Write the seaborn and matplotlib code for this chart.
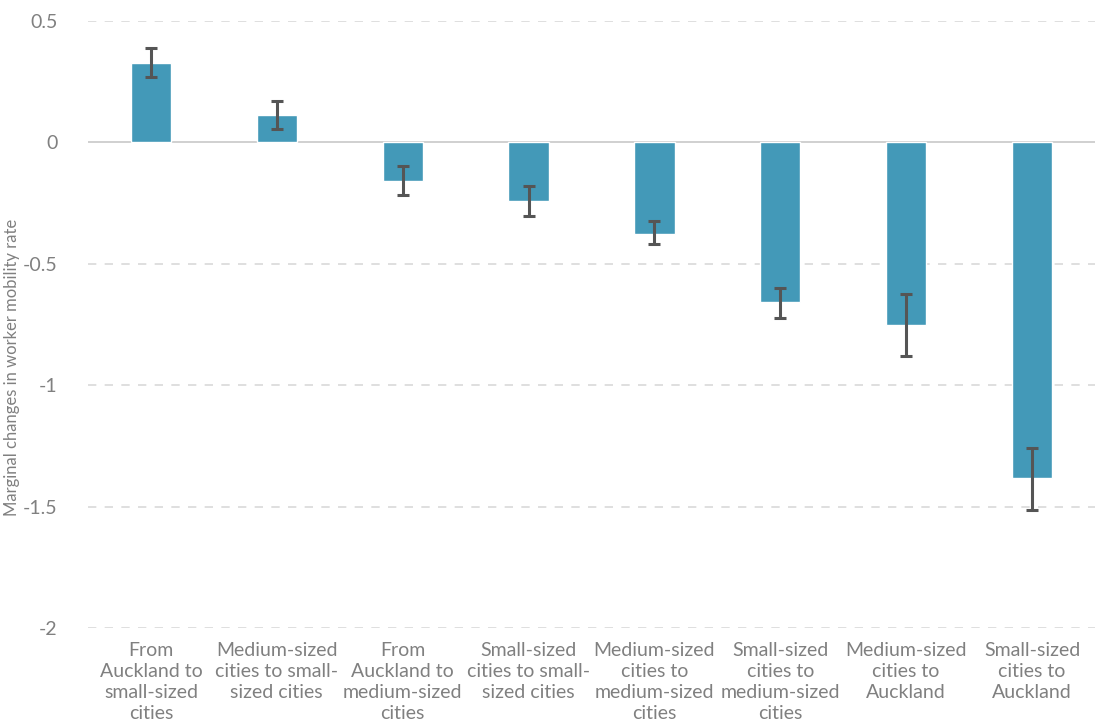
import numpy as np
import pandas as pd
import matplotlib
matplotlib.use("Agg")
import matplotlib.pyplot as plt
import seaborn as sns

# Data
categories = [
    "From\nAuckland to\nsmall-sized\ncities",
    "Medium-sized\ncities to small-\nsized cities",
    "From\nAuckland to\nmedium-sized\ncities",
    "Small-sized\ncities to small-\nsized cities",
    "Medium-sized\ncities to\nmedium-sized\ncities",
    "Small-sized\ncities to\nmedium-sized\ncities",
    "Medium-sized\ncities to\nAuckland",
    "Small-sized\ncities to\nAuckland",
]
values = [0.325, 0.111, -0.157, -0.243, -0.379, -0.659, -0.754, -1.384]
ci_low = [0.268, 0.054, -0.218, -0.305, -0.420, -0.725, -0.881, -1.516]
ci_high = [0.387, 0.169, -0.099, -0.181, -0.325, -0.601, -0.626, -1.260]

yticks = [0.5, 0, -0.5, -1, -1.5, -2]
ytick_labels = ["0.5", "0", "-0.5", "-1", "-1.5", "-2"]

bar_color = "#4399b8"
text_color = "#808080"

df = pd.DataFrame({"route": categories, "change": values})

sns.set_style("white")
plt.rcParams["font.family"] = ["Lato", "DejaVu Sans"]

fig = plt.figure(figsize=(10.95, 7.27), dpi=100)
ax = fig.add_axes([88 / 1095, 1 - 628 / 727, 1 - 88 / 1095, 607 / 727])

sns.barplot(data=df, x="route", y="change", color=bar_color, width=0.32,
            saturation=1, errorbar=None, ax=ax, zorder=3)

# asymmetric error bars
x = np.arange(len(values))
yerr = np.array([np.array(values) - np.array(ci_low),
                 np.array(ci_high) - np.array(values)])
ax.errorbar(x, values, yerr=yerr, fmt="none", ecolor="#555555",
            elinewidth=2.2, capsize=4.5, capthick=2.2, zorder=4)

ax.set_ylim(-2, 0.5)
ax.set_xlim(-0.5, len(values) - 0.5)
ax.set_yticks(yticks)
ax.set_yticklabels(ytick_labels)

for yv in yticks:
    if yv == 0:
        ax.axhline(0, color="#c8c8c8", lw=1.2, zorder=2)
    else:
        ax.axhline(yv, color="#d9d9d9", lw=1.2, ls=(0, (5, 5)), zorder=1)

for s in ax.spines.values():
    s.set_visible(False)

ax.tick_params(axis="y", length=0, colors=text_color, labelsize=14, pad=22)
ax.tick_params(axis="x", length=0, colors=text_color, labelsize=14, pad=10)
ax.set_xlabel("")
ax.set_ylabel("Marginal changes in worker mobility rate", color=text_color,
              fontsize=12, labelpad=14)
ax.yaxis.set_label_coords(-0.068, 0.43)
for lab in ax.get_xticklabels():
    lab.set_linespacing(1.3)

fig.savefig("out.png", dpi=100)
